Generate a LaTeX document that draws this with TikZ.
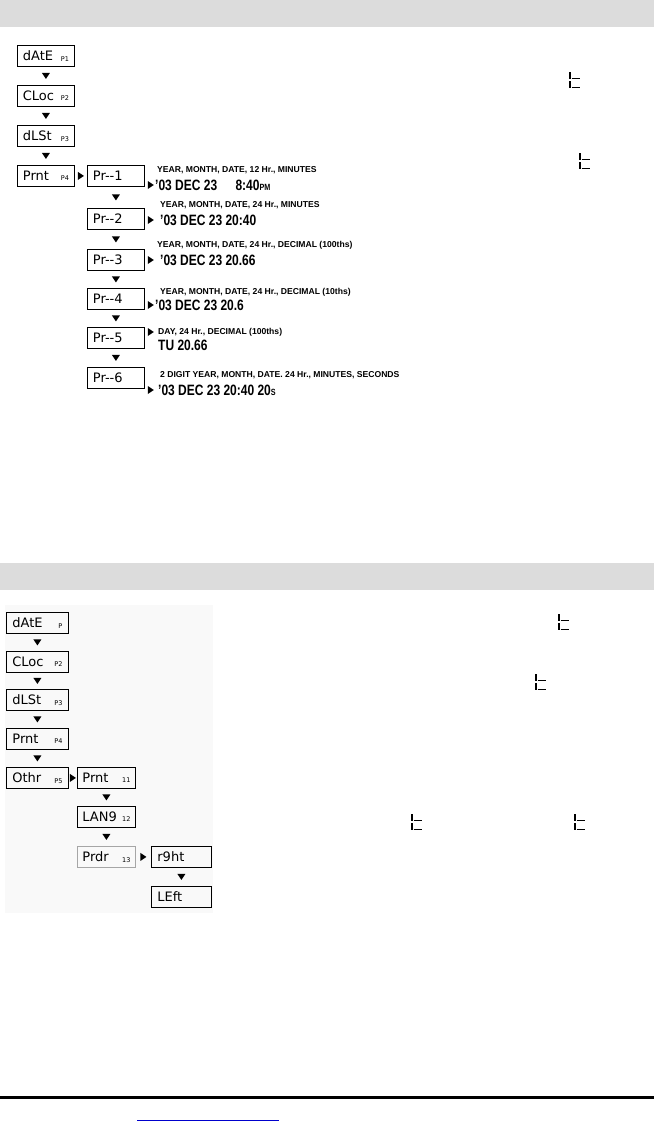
\documentclass[tikz,border=0pt]{standalone}
\usepackage{fontspec}
\setmainfont{Liberation Sans}
\newfontfamily\segf{DejaVu Sans}
\newfontfamily\condf[FakeStretch=0.8]{Liberation Sans}
\definecolor{barg}{HTML}{DCDCDC}
\definecolor{bgfaint}{HTML}{F9F9F9}
\definecolor{linkblue}{HTML}{0000CC}
\newcommand{\segtext}[3][46pt]{\makebox[#1][l]{\fontsize{13}{13}\segf #2\hfill\raisebox{-0.5pt}{\fontsize{6.5}{6.5}\segf #3}}}
\newcommand{\hd}{\fontsize{8.6}{9}\bfseries}
\newcommand{\vl}{\fontsize{15}{15}\condf\bfseries}
\tikzset{
  lcd/.style={draw, line width=0.8pt, anchor=north west, inner sep=0pt, minimum height=21pt},
  lcdA/.style={lcd, minimum width=57pt},
  lcdB/.style={lcd, minimum width=62pt},
  lcdC/.style={lcd, minimum width=58pt},
  lcdD/.style={lcd, minimum width=60pt},
  hdtxt/.style={anchor=west, inner sep=0pt, font=\hd},
  vltxt/.style={anchor=west, inner sep=0pt, font=\vl},
  dtri/.pic={\fill (-4,-3) -- (4,-3) -- (0,3) -- cycle;},
  rtri/.pic={\fill (-3,-4) -- (-3,4) -- (3,0) -- cycle;},
  segt/.pic={\draw[line width=1.8pt] (0,0) -- (0,7) (0,9) -- (0,16);
             \draw[line width=1.4pt] (1.5,6.5) -- (10,6.5) (1.5,15.5) -- (10,15.5);}
}
\begin{document}
\begin{tikzpicture}[x=1pt,y=-1pt]
\useasboundingbox (0,0) rectangle (654,1122);
% header bars
\fill[barg] (0,0) rectangle (654,27);
\fill[barg] (0,563) rectangle (654,590);
\fill[bgfaint] (5,605) rectangle (213,913);

% ---- top section ----
\node[lcdA] (date) at (17,45) {\segtext{dAtE}{P1}};
\node[lcdA] (cloc) at (17,85) {\segtext{CLoc}{P2}};
\node[lcdA] (dlst) at (17,125) {\segtext{dLSt}{P3}};
\node[lcdA] (prnt) at (17,165) {\segtext{Prnt}{P4}};
\node[lcdA] (pr1) at (87,165) {\segtext{Pr-{}-1}{}};
\node[lcdA] (pr2) at (87,208) {\segtext{Pr-{}-2}{}};
\node[lcdA] (pr3) at (87,249) {\segtext{Pr-{}-3}{}};
\node[lcdA] (pr4) at (87,288) {\segtext{Pr-{}-4}{}};
\node[lcdA] (pr5) at (87,327) {\segtext{Pr-{}-5}{}};
\node[lcdA] (pr6) at (87,367) {\segtext{Pr-{}-6}{}};

\path (date.south) -- coordinate[midway] (a1) (cloc.north);
\path (cloc.south) -- coordinate[midway] (a2) (dlst.north);
\path (dlst.south) -- coordinate[midway] (a3) (prnt.north);
\path (pr1.south) -- coordinate[midway] (a4) (pr2.north);
\path (pr2.south) -- coordinate[midway] (a5) (pr3.north);
\path (pr3.south) -- coordinate[midway] (a6) (pr4.north);
\path (pr4.south) -- coordinate[midway] (a7) (pr5.north);
\path (pr5.south) -- coordinate[midway] (a8) (pr6.north);
\foreach \c in {a1,a2,a3,a4,a5,a6,a7,a8} \pic at (\c) {dtri};
\path (prnt.east) -- coordinate[midway] (r0) (pr1.west);
\pic at (r0) {rtri};

\node[hdtxt] (h1) at (157,170) {YEAR, MONTH, DATE, 12 Hr., MINUTES};
\node[vltxt] (v1) at (155,185) {’03 DEC 23\quad\ 8:40{\fontsize{9}{9}\condf\bfseries PM}};
\node[hdtxt] (h2) at (160,205) {YEAR, MONTH, DATE, 24 Hr., MINUTES};
\node[vltxt] (v2) at (160,220) {’03 DEC 23 20:40};
\node[hdtxt] (h3) at (157,245) {YEAR, MONTH, DATE, 24 Hr., DECIMAL (100ths)};
\node[vltxt] (v3) at (160,260) {’03 DEC 23 20.66};
\node[hdtxt] (h4) at (160,292) {YEAR, MONTH, DATE, 24 Hr., DECIMAL (10ths)};
\node[vltxt] (v4) at (155,305) {’03 DEC 23 20.6};
\node[hdtxt] (h5) at (158,332) {DAY, 24 Hr., DECIMAL (100ths)};
\node[vltxt] (v5) at (158,345) {TU 20.66};
\node[hdtxt] (h6) at (160,375) {2 DIGIT YEAR, MONTH, DATE. 24 Hr., MINUTES, SECONDS};
\node[vltxt] (v6) at (158,390) {’03 DEC 23 20:40 20{\fontsize{9}{9}\condf\bfseries S}};

\foreach \b/\t in {pr1/v1,pr2/v2,pr3/v3,pr4/v4,pr5/h5,pr6/v6}{
  \coordinate (q-\b) at ([xshift=6pt]\b.east);
  \pic at (q-\b |- \t) {rtri};
}

\pic at (570,72) {segt};
\pic at (580,153) {segt};

% ---- bottom section ----
\node[lcdB] (bdate) at (6,612) {\segtext[50pt]{dAtE}{P}};
\node[lcdB] (bcloc) at (6,651) {\segtext[50pt]{CLoc}{P2}};
\node[lcdB] (bdlst) at (6,689) {\segtext[50pt]{dLSt}{P3}};
\node[lcdB] (bprnt) at (6,728) {\segtext[50pt]{Prnt}{P4}};
\node[lcdB] (bothr) at (6,767) {\segtext[50pt]{Othr}{P5}};
\node[lcdC] (cprnt) at (77,767) {\segtext[48pt]{Prnt}{11}};
\node[lcdC] (clang) at (77,806) {\segtext[48pt]{LAN9}{12}};
\node[lcdC, draw=gray!70] (cprdr) at (77,846) {\segtext[48pt]{Prdr}{13}};
\node[lcdD] (drght) at (151,846) {\segtext[48pt]{r9ht}{}};
\node[lcdD] (dleft) at (151,886) {\segtext[48pt]{LEft}{}};

\path (bdate.south) -- coordinate[midway] (b1) (bcloc.north);
\path (bcloc.south) -- coordinate[midway] (b2) (bdlst.north);
\path (bdlst.south) -- coordinate[midway] (b3) (bprnt.north);
\path (bprnt.south) -- coordinate[midway] (b4) (bothr.north);
\path (cprnt.south) -- coordinate[midway] (b5) (clang.north);
\path (clang.south) -- coordinate[midway] (b6) (cprdr.north);
\path (drght.south) -- coordinate[midway] (b7) (dleft.north);
\foreach \c in {b1,b2,b3,b4,b5,b6,b7} \pic at (\c) {dtri};
\path (bothr.east) -- coordinate[midway] (s1) (cprnt.west);
\path (cprdr.east) -- coordinate[midway] (s2) (drght.west);
\pic at (s1) {rtri};
\pic at (s2) {rtri};

\pic at (559,614) {segt};
\pic at (536,674) {segt};
\pic at (412,814) {segt};
\pic at (575,814) {segt};

% footer
\draw[line width=3.5pt] (0,1097.5) -- (654,1097.5);
\draw[linkblue, line width=1pt] (137,1120.5) -- (279,1120.5);
\end{tikzpicture}
\end{document}
